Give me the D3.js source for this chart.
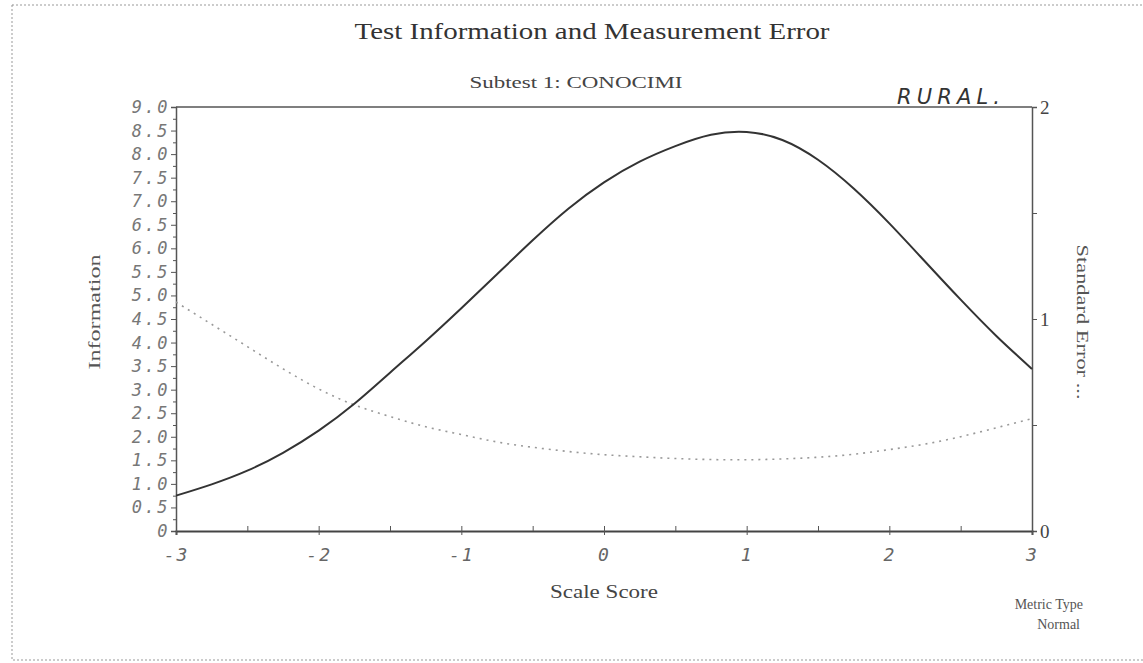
<!DOCTYPE html>
<html>
<head>
<meta charset="utf-8">
<script src="https://cdn.jsdelivr.net/npm/d3@7"></script>
<style>
  html, body { margin: 0; padding: 0; background: #fff; }
  svg { display: block; }
</style>
</head>
<body>
<svg id="chart" width="1143" height="663"></svg>
<script>
// ---- data ----
const scaleScores = [-3, -2.75, -2.5, -2.25, -2, -1.75, -1.5, -1.25, -1, -0.75, -0.5, -0.25, 0, 0.25, 0.5, 0.75, 1, 1.25, 1.5, 1.75, 2, 2.25, 2.5, 2.75, 3];
const information = [0.75, 0.99, 1.28, 1.66, 2.13, 2.70, 3.36, 4.03, 4.73, 5.45, 6.17, 6.84, 7.40, 7.84, 8.17, 8.41, 8.47, 8.30, 7.88, 7.27, 6.53, 5.72, 4.91, 4.14, 3.44];
const stdError = [1.08, 0.975, 0.87, 0.765, 0.67, 0.595, 0.54, 0.492, 0.455, 0.42, 0.395, 0.375, 0.36, 0.35, 0.342, 0.337, 0.336, 0.34, 0.348, 0.362, 0.384, 0.41, 0.445, 0.487, 0.53];
const xTicks = [-3, -2, -1, 0, 1, 2, 3];
const xMinorTicks = [-2.5, -1.5, -0.5, 0.5, 1.5, 2.5];
const leftTicks = [0, 0.5, 1, 1.5, 2, 2.5, 3, 3.5, 4, 4.5, 5, 5.5, 6, 6.5, 7, 7.5, 8, 8.5, 9];
const leftTickLabels = ["0", "0.5", "1.0", "1.5", "2.0", "2.5", "3.0", "3.5", "4.0", "4.5", "5.0", "5.5", "6.0", "6.5", "7.0", "7.5", "8.0", "8.5", "9.0"];
const leftMinorTicks = [0.25, 0.75, 1.25, 1.75, 2.25, 2.75, 3.25, 3.75, 4.25, 4.75, 5.25, 5.75, 6.25, 6.75, 7.25, 7.75, 8.25, 8.75];
const rightTicks = [0, 0.5, 1, 1.5, 2];
const rightTickLabels = ["0", "", "1", "", "2"];

const svg = d3.select("#chart");
const L = 176, R = 1032, T = 107, B = 531;

const x = d3.scaleLinear().domain([-3, 3]).range([L, R]);
const yL = d3.scaleLinear().domain([0, 9]).range([B, T]);
const yR = d3.scaleLinear().domain([0, 2]).range([B, T]);

const axisColor = "#555";
const monoFont = "'DejaVu Sans Mono', 'Liberation Mono', monospace";
const serif = "'Liberation Serif', 'DejaVu Serif', serif";

// page border
svg.append("rect").attr("x", 12).attr("y", 5).attr("width", 1140).attr("height", 655)
  .attr("fill", "none").attr("stroke", "#999").attr("stroke-width", 1).attr("stroke-dasharray", "2,2");

// titles
svg.append("text").attr("x", 592).attr("y", 39).attr("text-anchor", "middle")
  .attr("font-family", serif).attr("font-size", 24).attr("fill", "#333")
  .attr("textLength", 475).attr("lengthAdjust", "spacingAndGlyphs")
  .text("Test Information and Measurement Error");
svg.append("text").attr("x", 576).attr("y", 88).attr("text-anchor", "middle")
  .attr("font-family", serif).attr("font-size", 17).attr("fill", "#444")
  .attr("textLength", 213).attr("lengthAdjust", "spacingAndGlyphs")
  .text("Subtest 1: CONOCIMI");
svg.append("text").attr("x", 897).attr("y", 104)
  .attr("font-family", "'DejaVu Sans', sans-serif").attr("font-style", "italic").attr("font-size", 21).attr("fill", "#333")
  .attr("textLength", 103).attr("lengthAdjust", "spacing")
  .text("RURAL.");

// top frame line
svg.append("line").attr("x1", L).attr("x2", R).attr("y1", T).attr("y2", T)
  .attr("stroke", axisColor).attr("stroke-width", 1.5);

// left axis
const gL = svg.append("g").attr("transform", `translate(${L},0)`);
gL.call(d3.axisLeft(yL).tickValues(leftTicks).tickSize(5).tickPadding(1)
  .tickFormat((d, i) => leftTickLabels[i]));
gL.selectAll("path.domain").attr("stroke", axisColor).attr("stroke-width", 1.5);
gL.selectAll("line").attr("stroke", axisColor);
gL.selectAll("text").attr("font-family", monoFont).attr("font-style", "italic")
  .attr("font-size", 17).attr("letter-spacing", 2.5).attr("fill", "#777");
const gLm = svg.append("g").attr("transform", `translate(${L},0)`);
gLm.call(d3.axisLeft(yL).tickValues(leftMinorTicks).tickSize(3).tickFormat(""));
gLm.select("path.domain").remove();
gLm.selectAll("line").attr("stroke", axisColor);

// right axis
const gR = svg.append("g").attr("transform", `translate(${R},0)`);
gR.call(d3.axisRight(yR).tickValues(rightTicks).tickSize(5).tickPadding(3)
  .tickFormat((d, i) => rightTickLabels[i]));
gR.selectAll("path.domain").attr("stroke", axisColor).attr("stroke-width", 1.5);
gR.selectAll("line").attr("stroke", axisColor);
gR.selectAll("text").attr("font-family", serif).attr("font-size", 19).attr("fill", "#444");

// bottom axis
const gB = svg.append("g").attr("transform", `translate(0,${B})`);
gB.call(d3.axisBottom(x).tickValues(xTicks).tickSize(4).tickPadding(13).tickFormat(d => String(d)));
gB.selectAll("path.domain").attr("stroke", "#444").attr("stroke-width", 2);
gB.selectAll("line").attr("stroke", axisColor);
gB.selectAll("text").attr("font-family", monoFont).attr("font-style", "italic")
  .attr("font-size", 18).attr("letter-spacing", 2).attr("fill", "#666");
const gBm = svg.append("g").attr("transform", `translate(0,${B})`);
gBm.call(d3.axisTop(x).tickValues(xTicks.concat(xMinorTicks)).tickSize(5).tickFormat(""));
gBm.select("path.domain").remove();
gBm.selectAll("line").attr("stroke", axisColor);

// axis titles
svg.append("text").attr("transform", `translate(100,312) rotate(-90)`).attr("text-anchor", "middle")
  .attr("font-family", serif).attr("font-size", 17).attr("fill", "#555")
  .attr("textLength", 115).attr("lengthAdjust", "spacingAndGlyphs")
  .text("Information");
svg.append("text").attr("transform", `translate(1077,322) rotate(90)`).attr("text-anchor", "middle")
  .attr("font-family", serif).attr("font-size", 17).attr("fill", "#555")
  .attr("textLength", 155).attr("lengthAdjust", "spacingAndGlyphs")
  .text("Standard Error ...");
svg.append("text").attr("x", 604).attr("y", 598).attr("text-anchor", "middle")
  .attr("font-family", serif).attr("font-size", 18).attr("fill", "#444")
  .attr("textLength", 108).attr("lengthAdjust", "spacingAndGlyphs")
  .text("Scale Score");
svg.append("text").attr("x", 1083).attr("y", 609).attr("text-anchor", "end")
  .attr("font-family", serif).attr("font-size", 14).attr("fill", "#555")
  .text("Metric Type");
svg.append("text").attr("x", 1080).attr("y", 629).attr("text-anchor", "end")
  .attr("font-family", serif).attr("font-size", 14).attr("fill", "#555")
  .text("Normal");

// series
const infoLine = d3.line().x((d, i) => x(scaleScores[i])).y(d => yL(d)).curve(d3.curveNatural);
const seLine = d3.line().x((d, i) => x(scaleScores[i])).y(d => yR(d)).curve(d3.curveNatural);

svg.append("path").datum(stdError).attr("d", seLine)
  .attr("fill", "none").attr("stroke", "#999").attr("stroke-width", 1.6).attr("stroke-dasharray", "2,5");
svg.append("path").datum(information).attr("d", infoLine)
  .attr("fill", "none").attr("stroke", "#333").attr("stroke-width", 2);
</script>
</body>
</html>
